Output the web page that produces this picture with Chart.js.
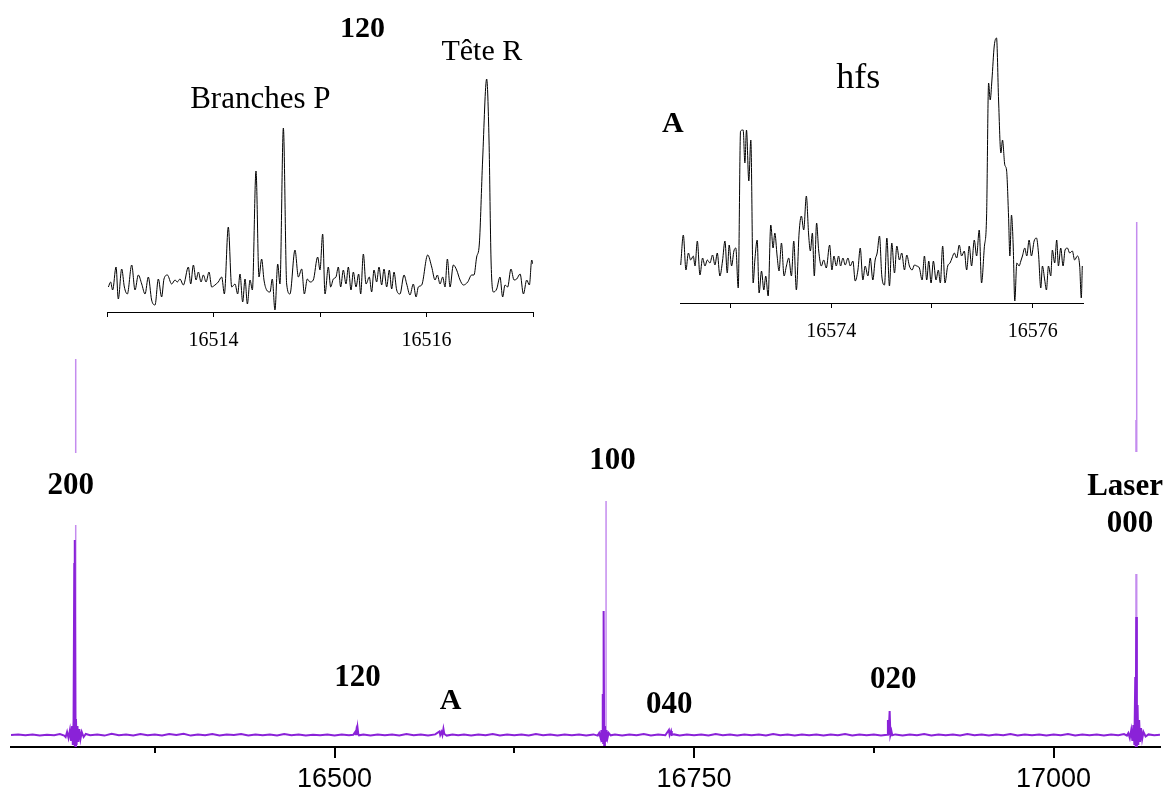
<!DOCTYPE html>
<html>
<head>
<meta charset="utf-8">
<script src="https://cdn.jsdelivr.net/npm/chart.js@4.4.0/dist/chart.umd.min.js"></script>
<style>
  html, body { margin: 0; padding: 0; background: #fff; overflow: hidden; }
  canvas { position: absolute; left: 0; top: 0; }
</style>
</head>
<body>
<canvas id="mainChart" width="1167" height="787"></canvas>
<canvas id="inset120" width="1167" height="787"></canvas>
<canvas id="insetA" width="1167" height="787"></canvas>
<script>
// ---- main spectrum (wavenumber, intensity) ----
var traceX = [
    16275, 16280, 16285, 16290, 16295, 16300, 16305, 16309, 16312,
    16313, 16314, 16315, 16316, 16316.8, 16317.5, 16318, 16318.5, 16319, 16319.2, 16319.5, 16319.8,
    16320.2, 16320.6, 16321.2, 16321.8, 16322.5, 16323.3, 16324.2, 16325.5, 16327, 16330,
    16335, 16340, 16345, 16350, 16355, 16360, 16365, 16370, 16375, 16380, 16385, 16390, 16395,
    16400, 16405, 16410, 16415, 16420, 16425, 16430, 16435, 16440, 16445, 16450, 16455, 16460,
    16465, 16470, 16475, 16480, 16485, 16490, 16495, 16500, 16505, 16510,
    16513, 16514.3, 16514.7, 16515.1, 16515.5, 16516, 16516.5, 16517,
    16520, 16525, 16530, 16535, 16540, 16545, 16550, 16555, 16560, 16565, 16570,
    16573, 16573.5, 16574.4, 16575, 16575.7, 16576.3, 16578,
    16582, 16586, 16590, 16595, 16600, 16605, 16610, 16615, 16620, 16625, 16630, 16635, 16640,
    16645, 16650, 16655, 16660, 16665, 16670, 16675, 16680, 16683,
    16684, 16685, 16685.6, 16686.1, 16686.5, 16686.8, 16687.1, 16687.5, 16688, 16688.5, 16689.1,
    16689.8, 16690.6, 16692,
    16695, 16700, 16705, 16710, 16715, 16720, 16725, 16730,
    16732.5, 16733, 16734, 16734.5, 16736,
    16740, 16745, 16750, 16755, 16760, 16765, 16770, 16775, 16780, 16785, 16790, 16795, 16800,
    16805, 16810, 16815, 16820, 16825, 16830, 16835, 16840, 16845, 16850, 16855, 16860, 16865,
    16870, 16875, 16880,
    16884.2, 16884.8, 16885.3, 16886, 16886.5, 16887.2, 16887.8,
    16890, 16895, 16900, 16905, 16910, 16915, 16920, 16925, 16930, 16935, 16940, 16945, 16950,
    16955, 16960, 16965, 16970, 16975, 16980, 16985, 16990, 16995, 17000, 17005, 17010, 17015,
    17020, 17025, 17030, 17035, 17040, 17045, 17049, 17051,
    17052, 17053, 17054, 17054.8, 17055.5, 17056.2, 17056.8, 17057.1, 17057.5, 17057.9, 17058.4,
    17058.9, 17059.5, 17060.1, 17060.8, 17061.6, 17062.5, 17064, 17066, 17070, 17074
];
var traceY = [
    0, 0.6, -0.3, 0.6, -0.6, 0.3, -0.3, 0.9, -0.6,
    -2, 3, -3, 5, -6, 9, -10, 14, 172, -11, 195, -12,
    16, -10, 9, -7, 6, -4, 3, -2, 1, -0.3,
    0.6, -0.6, 1.2, -0.3, 0.6, -0.6, 0.9, -0.3, 0.6, -0.6, 0.9, 0, 1.2,
    -0.6, 0.6, -0.3, 0.9, -0.6, 0.6, 0, 0.9, -0.6, 0.6, -0.3, 0.6, -0.6,
    0.9, -0.3, 0.6, -0.6, 0.3, -0.3, 0.6, -0.6, 0.6, -0.3,
    0.3, 3, 0, 4, 0, 7, 1, -0.3,
    0.6, -0.6, 0.6, -0.3, 0.6, -0.6, 0.9, -0.3, 0.6, -0.6, 0.6,
    3.5, 0, 3, 0, 6, 1, -0.6,
    0.6, -0.3, 0.6, -0.6, 0.6, -0.3, 0.9, -0.6, 0.6, -0.3, 0.6, -0.6, 0.9,
    -0.3, 0.6, -0.6, 0.6, -0.3, 0.6, -0.6, 0.6, -0.6,
    2, -3, 5, -6, 41, -8, 124, -10, 9, -7, 5,
    -3, 2, -0.3,
    0.6, -0.6, 0.6, -0.3, 0.9, -0.6, 0.6, -0.3,
    5, 0, 4, 0, 0.6,
    -0.6, 0.6, -0.3, 0.6, -0.6, 0.9, -0.3, 0.6, -0.6, 0.6, -0.3, 0.6, -0.6,
    0.9, -0.3, 0.6, -0.6, 0.6, -0.3, 0.6, -0.6, 0.6, -0.3, 0.9, -0.6, 0.6,
    -0.3, 0.6, -0.6,
    0.3, 15, 0, 24, 0, 4, -0.3,
    0.6, -0.6, 0.6, -0.3, 0.9, -0.6, 0.6, -0.3, 0.6, -0.6, 0.9, -0.3, 0.6,
    -0.6, 0.6, -0.3, 0.9, -0.6, 0.6, -0.3, 0.6, -0.6, 0.6, -0.3, 0.9, -0.6,
    0.6, -0.3, 0.6, -0.6, 0.6, -0.3, 0.9, -0.6,
    2, -3, 5, -6, 10, -10, 58, -12, 118, -12, 30,
    -10, 15, -7, 7, -4, 3, -1.5, 0.6, -0.3, 0.3
];
// tall thin lines (200, 100, laser)
var spikeX = [16320, 16688.8, 17057.3, 17057.8];
var spikeH = [376, 295, 315, 513];

var mainTicks = [16500, 16750, 17000];
var minorTicks = [16375, 16625, 16875];

// ---- inset 120 ----
var inset120Base = 16513;
var inset120Off = [
    0.013, 0.034, 0.053, 0.085, 0.106, 0.138, 0.163, 0.191, 0.232, 0.263, 0.294, 0.326, 0.357,
    0.388, 0.419, 0.451, 0.482, 0.513, 0.535, 0.567, 0.607, 0.639, 0.660, 0.685, 0.717, 0.764,
    0.786, 0.811, 0.836, 0.858, 0.883, 0.905, 0.930, 0.958, 0.983, 1.014, 1.045, 1.077, 1.102,
    1.139, 1.171, 1.202, 1.227, 1.249, 1.274, 1.296, 1.318, 1.343, 1.365, 1.399, 1.427, 1.452,
    1.474, 1.499, 1.531, 1.552, 1.577, 1.603, 1.624, 1.656, 1.687, 1.718, 1.765, 1.797, 1.828,
    1.853, 1.881, 1.906, 1.937, 1.978, 2.000, 2.025, 2.047, 2.078, 2.100, 2.125, 2.150, 2.172,
    2.194, 2.219, 2.244, 2.266, 2.291, 2.313, 2.338, 2.363, 2.382, 2.407, 2.432, 2.463, 2.485,
    2.507, 2.532, 2.554, 2.579, 2.601, 2.626, 2.651, 2.673, 2.695, 2.720, 2.751, 2.789, 2.814,
    2.845, 2.876, 2.902, 2.923, 2.955, 3.011, 3.049, 3.080, 3.102, 3.127, 3.152, 3.174, 3.196,
    3.221, 3.252, 3.283, 3.315, 3.346, 3.387, 3.424, 3.446, 3.471, 3.496, 3.527, 3.565, 3.587,
    3.606, 3.628, 3.659, 3.690, 3.715, 3.737, 3.762, 3.793, 3.822, 3.847, 3.879, 3.910, 3.941,
    3.966, 3.988, 4.000
];
var inset120Val = [
    25, 30, 22, 45, 13, 43, 25, 18, 47, 22, 37, 28, 18,
    35, 12, 7, 33, 15, 33, 37, 28, 32, 30, 33, 27, 45,
    28, 47, 32, 40, 30, 37, 30, 40, 25, 27, 30, 35, 18,
    85, 25, 28, 18, 38, 10, 33, 8, 32, 22, 141, 35, 53,
    32, 22, 20, 33, 2, 48, 28, 184, 28, 18, 62, 35, 43,
    18, 33, 30, 32, 55, 42, 78, 18, 45, 25, 33, 35, 45,
    25, 42, 28, 45, 22, 40, 25, 38, 18, 58, 28, 35, 20,
    42, 30, 45, 27, 43, 25, 42, 23, 40, 22, 18, 37, 28,
    17, 28, 15, 25, 27, 57, 45, 32, 37, 28, 35, 25, 53,
    25, 47, 42, 32, 27, 30, 37, 37, 55, 68, 152, 233, 172,
    52, 20, 23, 35, 15, 27, 25, 43, 32, 33, 38, 18, 32,
    27, 52, 48
];
var inset120Ticks = [16513, 16514, 16515, 16516, 16517];
var inset120Labels = [16514, 16516];

// ---- inset A (hfs) ----
var insetABase = 16572.5;
var insetAOff = [
    0.007, 0.033, 0.059, 0.083, 0.106, 0.132, 0.149, 0.172, 0.198, 0.224, 0.248, 0.271, 0.297,
    0.323, 0.347, 0.370, 0.396, 0.422, 0.446, 0.469, 0.488, 0.512, 0.535, 0.554, 0.578, 0.601,
    0.627, 0.644, 0.660, 0.683, 0.703, 0.726, 0.743, 0.766, 0.785, 0.809, 0.832, 0.851, 0.875,
    0.901, 0.924, 0.941, 0.964, 0.983, 1.007, 1.033, 1.056, 1.079, 1.106, 1.129, 1.155, 1.182,
    1.205, 1.228, 1.254, 1.277, 1.294, 1.314, 1.333, 1.356, 1.376, 1.403, 1.426, 1.452, 1.485,
    1.508, 1.528, 1.551, 1.574, 1.594, 1.617, 1.640, 1.667, 1.690, 1.716, 1.739, 1.766, 1.789,
    1.815, 1.838, 1.865, 1.888, 1.914, 1.937, 1.957, 1.980, 2.003, 2.030, 2.053, 2.079, 2.102,
    2.129, 2.152, 2.178, 2.201, 2.228, 2.251, 2.277, 2.304, 2.327, 2.350, 2.376, 2.403, 2.426,
    2.449, 2.469, 2.492, 2.515, 2.541, 2.564, 2.584, 2.607, 2.630, 2.657, 2.680, 2.700, 2.723,
    2.746, 2.772, 2.795, 2.822, 2.845, 2.871, 2.894, 2.921, 2.944, 2.970, 2.993, 3.020, 3.043,
    3.063, 3.079, 3.096, 3.119, 3.142, 3.162, 3.185, 3.201, 3.224, 3.241, 3.261, 3.274, 3.290,
    3.307, 3.323, 3.343, 3.366, 3.383, 3.399, 3.422, 3.442, 3.465, 3.488, 3.515, 3.538, 3.558,
    3.581, 3.597, 3.620, 3.637, 3.657, 3.680, 3.696, 3.719, 3.739, 3.756, 3.779, 3.802, 3.822,
    3.845, 3.868, 3.894, 3.917, 3.944, 3.967, 3.983, 3.993
];
var insetAVal = [
    38, 68, 33, 50, 43, 47, 37, 62, 28, 45, 37, 43, 40,
    48, 38, 50, 27, 42, 62, 30, 58, 37, 52, 55, 15, 172,
    173, 140, 173, 122, 163, 20, 43, 63, 10, 32, 13, 27, 7,
    78, 55, 70, 47, 32, 60, 27, 37, 45, 27, 62, 13, 70,
    87, 73, 107, 68, 52, 70, 27, 80, 53, 37, 43, 35, 58,
    33, 47, 37, 47, 37, 45, 38, 45, 37, 42, 22, 33, 55,
    23, 37, 27, 45, 23, 43, 50, 67, 27, 18, 65, 17, 60,
    30, 57, 43, 50, 33, 48, 37, 33, 38, 37, 35, 23, 47,
    23, 42, 20, 42, 23, 33, 20, 57, 20, 37, 40, 45, 50,
    45, 58, 47, 52, 33, 57, 37, 63, 47, 73, 20, 55, 87,
    220, 203, 223, 257, 265, 203, 150, 163, 138, 133, 87, 47, 88,
    58, 2, 40, 37, 42, 47, 55, 47, 63, 47, 62, 65, 50,
    15, 37, 23, 13, 37, 27, 53, 40, 63, 37, 55, 37, 53,
    55, 50, 52, 43, 47, 37, 5, 37
];
var insetATicks = [16573, 16574, 16575, 16576];
var insetALabels = [16574, 16576];

// ---- text labels (x in wavenumber, y in intensity at text baseline) ----
var mainNotes = [
    { text: '200', x: 16316.5, y: 241, size: 31, bold: true, box: [-43, -41, 57, 31] },
    { text: '100', x: 16693.2, y: 266, size: 31, bold: true, box: [-44, -41, 56, 32] },
    { text: 'Laser', x: 17049.7, y: 240, size: 31, bold: true, box: [-40, -43, 42, 79] },
    { text: '000', x: 17053.2, y: 203, size: 31, bold: true },
    { text: '120', x: 16516, y: 49, size: 31, bold: true },
    { text: 'A', x: 16580.6, y: 26, size: 30, bold: true },
    { text: '040', x: 16732.8, y: 22, size: 31, bold: true },
    { text: '020', x: 16888.5, y: 47, size: 31, bold: true }
];
var inset120Notes = [
    { text: '120', x: 16515.4, y: 275, size: 30, bold: true },
    { text: 'Branches P', x: 16514.44, y: 204, size: 31 },
    { text: 'Tête R', x: 16516.52, y: 252, size: 30 }
];
var insetANotes = [
    { text: 'hfs', x: 16574.27, y: 215, size: 36 },
    { text: 'A', x: 16572.43, y: 171, size: 30, bold: true }
];

var SERIF = '"Liberation Serif", "Times New Roman", serif';
var SANS = '"Liberation Sans", Arial, sans-serif';

function notesPlugin(items) {
    return {
        id: 'notes',
        afterDatasetsDraw: function(chart) {
            var ctx = chart.ctx, xs = chart.scales.x, ys = chart.scales.y;
            ctx.save();
            items.forEach(function(n) {
                if (!n.box) return;
                var px = xs.getPixelForValue(n.x), py = ys.getPixelForValue(n.y);
                ctx.fillStyle = '#fff';
                ctx.fillRect(px + n.box[0], py + n.box[1], n.box[2] - n.box[0], n.box[3] - n.box[1]);
            });
            items.forEach(function(n) {
                var px = xs.getPixelForValue(n.x), py = ys.getPixelForValue(n.y);
                ctx.font = (n.bold ? 'bold ' : '') + n.size + 'px ' + SERIF;
                ctx.fillStyle = '#000';
                ctx.textAlign = 'center';
                ctx.textBaseline = 'alphabetic';
                ctx.fillText(n.text, px, py);
            });
            ctx.restore();
        }
    };
}

var minorTickPlugin = {
    id: 'minorTicks',
    afterDraw: function(chart) {
        var s = chart.scales.x, ctx = chart.ctx;
        ctx.save();
        ctx.strokeStyle = '#000';
        ctx.lineWidth = 2;
        minorTicks.forEach(function(v) {
            var px = Math.round(s.getPixelForValue(v));
            ctx.beginPath();
            ctx.moveTo(px, s.top);
            ctx.lineTo(px, s.top + 6);
            ctx.stroke();
        });
        ctx.restore();
    }
};

function toPoints(xs, ys) {
    return xs.map(function(x, i) { return { x: x, y: ys[i] }; });
}

var spikePoints = [];
spikeX.forEach(function(x, i) {
    spikePoints.push({ x: x, y: 0 }, { x: x, y: spikeH[i] }, { x: x, y: null });
});

new Chart(document.getElementById('mainChart'), {
    type: 'line',
    data: {
        datasets: [{
            data: toPoints(traceX, traceY),
            borderColor: '#8a22d8',
            borderWidth: 2,
            pointRadius: 0,
            tension: 0
        }, {
            data: spikePoints,
            borderColor: '#c48cee',
            borderWidth: 1.5,
            pointRadius: 0,
            spanGaps: false
        }]
    },
    options: {
        responsive: false,
        animation: false,
        events: [],
        layout: { padding: { left: 11, right: 7, top: 0, bottom: 0 } },
        plugins: { legend: { display: false }, tooltip: { enabled: false } },
        scales: {
            x: {
                type: 'linear',
                min: 16275,
                max: 17074,
                afterFit: function(s) { s.height = 40; },
                afterBuildTicks: function(s) { s.ticks = mainTicks.map(function(v) { return { value: v }; }); },
                border: { color: '#000', width: 2 },
                grid: { drawOnChartArea: false, color: '#000', lineWidth: 2, tickLength: 11 },
                ticks: {
                    color: '#000', padding: 5, maxRotation: 0,
                    font: { family: SANS, size: 27 },
                    callback: function(v) { return String(v); }
                }
            },
            y: { display: false, min: -12, max: 735 }
        }
    },
    plugins: [minorTickPlugin, notesPlugin(mainNotes)]
});

function makeInset(id, base, offs, vals, ticks, labels, yMax, pad, notes) {
    new Chart(document.getElementById(id), {
        type: 'line',
        data: {
            datasets: [{
                data: offs.map(function(o, i) { return { x: base + o, y: vals[i] }; }),
                borderColor: '#000',
                borderWidth: 1,
                pointRadius: 0,
                cubicInterpolationMode: 'monotone'
            }]
        },
        options: {
            responsive: false,
            animation: false,
            events: [],
            layout: { padding: pad },
            plugins: { legend: { display: false }, tooltip: { enabled: false } },
            scales: {
                x: {
                    type: 'linear',
                    min: base,
                    max: base + 4,
                    afterFit: function(s) { s.height = 50; },
                    afterBuildTicks: function(s) { s.ticks = ticks.map(function(v) { return { value: v }; }); },
                    border: { color: '#000', width: 1 },
                    grid: { drawOnChartArea: false, color: '#000', lineWidth: 1, tickLength: 5 },
                    ticks: {
                        color: '#000', padding: 12, maxRotation: 0, autoSkip: false,
                        font: { family: SERIF, size: 20 },
                        callback: function(v) { return labels.indexOf(v) >= 0 ? String(v) : ''; }
                    }
                },
                y: { display: false, min: 0, max: yMax }
            }
        },
        plugins: [notesPlugin(notes)]
    });
}

makeInset('inset120', inset120Base, inset120Off, inset120Val, inset120Ticks, inset120Labels, 250,
    { left: 107, right: 634, top: 62, bottom: 425 }, inset120Notes);
makeInset('insetA', insetABase, insetAOff, insetAVal, insetATicks, insetALabels, 280,
    { left: 680, right: 84, top: 23, bottom: 434 }, insetANotes);
</script>
</body>
</html>
